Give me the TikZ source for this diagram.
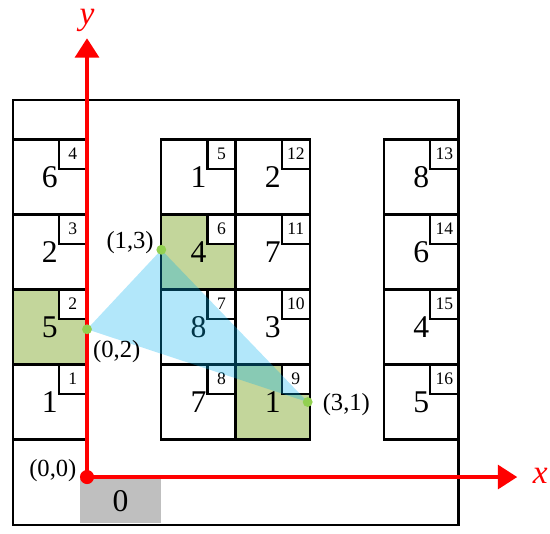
\documentclass[tikz,border=0pt]{standalone}
\usepackage{fontspec}
\setmainfont{Liberation Serif}
\usetikzlibrary{arrows.meta}
\definecolor{cellgreen}{HTML}{C3D69B}
\definecolor{ptgreen}{HTML}{92D050}
\definecolor{triblue}{HTML}{00B0F0}
\definecolor{axred}{HTML}{FF0000}
\definecolor{zonegray}{HTML}{BFBFBF}

\begin{document}
\begin{tikzpicture}[x=1.486cm,y=1.5cm,
	wall/.style={line width=1.3pt},
	axis/.style={axred,line width=2.2pt,-{Triangle[length=11pt,width=13.5pt]}},
	bignum/.style={font=\fontsize{18}{18}\selectfont},
	smallnum/.style={font=\fontsize{10}{10}\selectfont},
	lbl/.style={font=\fontsize{14}{14}\selectfont},
	axlbl/.style={text=axred,inner sep=0pt,font=\fontsize{19}{20}\selectfont\itshape}]
	\useasboundingbox (-1.171,-0.747) rectangle (6.231,6.36);
	% shaded cells
	\foreach \x/\y in {0/2,2/3,3/1}
		\fill[cellgreen] (\x-1,\y-0.5) rectangle (\x,\y+0.5);
	\fill[zonegray] (-0.094,-0.61) rectangle (1,-0.03);
	\node[bignum] (zero) at (0.45,-0.32) {0};
	% frame
	\draw[wall] (-1,-0.64) rectangle (5,5.03);
	% cells: right edge / row / big / small
	\foreach \x/\y/\b/\s in {0/4/6/4, 0/3/2/3, 0/2/5/2, 0/1/1/1,
			2/4/1/5, 2/3/4/6, 2/2/8/7, 2/1/7/8,
			3/4/2/12, 3/3/7/11, 3/2/3/10, 3/1/1/9,
			5/4/8/13, 5/3/6/14, 5/2/4/15, 5/1/5/16}{
		\draw[wall] (\x-1,\y-0.5) rectangle (\x,\y+0.5);
		\draw[wall,fill=white] (\x-0.38,\y+0.5) rectangle (\x,\y+0.11);
		\node[bignum] (big\s) at (\x-0.5,\y) {\b};
		\node[smallnum] (small\s) at (\x-0.19,\y+0.305) {\s};
	}
	% triangle
	\coordinate (p02) at (0,1.97);
	\coordinate (p13) at (1,3.03);
	\coordinate (p31) at (2.97,1);
	\fill[triblue,opacity=0.3] (p02) -- (p13) -- (p31) -- cycle;
	% axes
	\coordinate (o) at (0,0);
	\coordinate (xend) at (5.79,0);
	\coordinate (yend) at (0,5.85);
	\draw[axis] (o) -- (xend);
	\draw[axis] (o) -- (yend);
	\fill[axred] (o) circle (4pt);
	\foreach \p in {p02,p13,p31}
		\fill[ptgreen] (\p) circle (2.8pt);
	\node[axlbl] (xlab) at (6.1,0.02) {x};
	\node[axlbl] (ylab) at (0,6.09) {y};
	\node[lbl] (lo) at (-0.46,0.09) {(0,0)};
	\node[lbl] (l02) at (0.40,1.67) {(0,2)};
	\node[lbl] (l13) at (0.58,3.13) {(1,3)};
	\node[lbl] (l31) at (3.49,0.97) {(3,1)};
\end{tikzpicture}
\end{document}
